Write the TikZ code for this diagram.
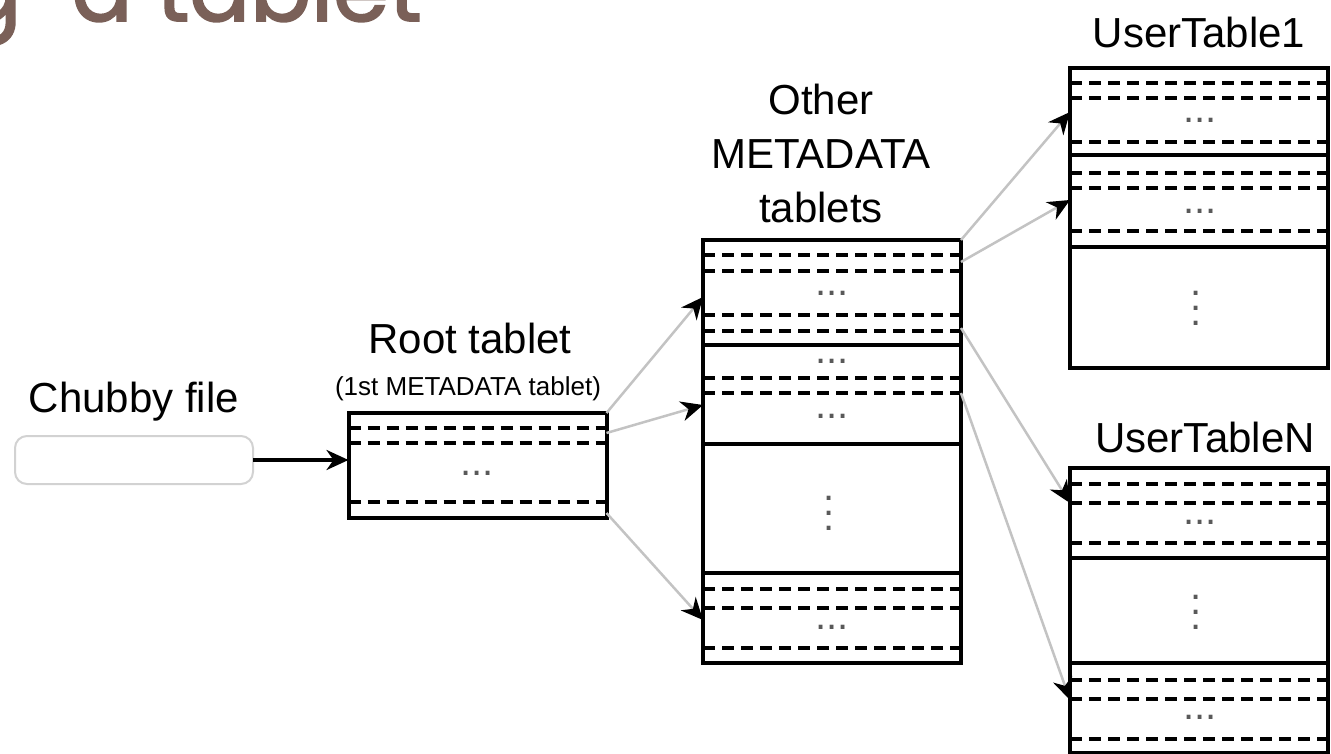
\documentclass[tikz,border=0pt]{standalone}
\usepackage{fontspec}
\setmainfont{Liberation Sans}
\newfontfamily\titlefont[FakeBold=2]{Poppins}
\usetikzlibrary{arrows.meta}
\definecolor{titlebrown}{RGB}{122,96,88}
\definecolor{linkgray}{RGB}{195,195,195}
\newcommand{\vdts}{\vbox{\baselineskip=15pt\lineskiplimit=-100pt\hbox{.}\hbox{.}\hbox{.}}}
\newcommand{\rowline}[3]{\path[draw,#3] (#1.west |- 0,#2) -- (#1.east |- 0,#2);}
\begin{document}
\begin{tikzpicture}[x=1pt,y=-1pt,
  tbl/.style={draw, line width=4pt, minimum width=258pt, inner sep=0pt, outer sep=0pt},
  filebox/.style={draw=gray!35, line width=2pt, rounded corners=12pt, minimum width=238pt, minimum height=48pt, inner sep=0pt, outer sep=0pt},
  dashrow/.style={line width=4pt, dash pattern=on 12pt off 7pt},
  solidrow/.style={line width=4pt},
  lbl/.style={font=\fontsize{42}{54}\selectfont, inner sep=0pt},
  dts/.style={font=\fontsize{40}{15}\selectfont, text=black!65, inner sep=0pt},
  link/.style={draw=linkgray, line width=2.5pt, -{Stealth[color=black,length=22pt,width=20pt,inset=7pt]}},
]
\clip (0,0) rectangle (1331,754);
% title, cut off by the top edge
\node[font=\titlefont\fontsize{90}{90}\selectfont, text=titlebrown, anchor=base east, inner sep=0pt] (title) at (422,21) {g\hspace{26pt} a tablet};

% tables
\node[filebox] (chubby) at (134,460) {};
\node[tbl, minimum height=105pt] (root) at (477.5,465.5) {};
\node[tbl, minimum height=423pt] (meta) at (832,451.5) {};
\node[tbl, minimum height=300pt] (ut1) at (1199,218) {};
\node[tbl, minimum height=285pt] (utn) at (1199,610.5) {};

% labels
\node[lbl, anchor=base] (chubbylbl) at (134,412) {Chubby file};
\node[lbl, anchor=base] (rootlbl) at (470,353) {Root tablet};
\node[font=\fontsize{26}{26}\selectfont, inner sep=0pt, anchor=base] (rootsub) at (468,395) {(1st METADATA tablet)};
\node[lbl, align=center] (metalbl) at (821,153) {Other\\METADATA\\tablets};
\node[lbl, anchor=base] (ut1lbl) at (1199,48) {UserTable1};
\node[lbl, anchor=base] (utnlbl) at (1205,452) {UserTableN};

% root rows
\rowline{root}{428}{dashrow}
\rowline{root}{443}{dashrow}
\rowline{root}{502}{dashrow}
\node[dts] (rootdots) at (477,473) {...};

% metadata rows
\rowline{meta}{255}{dashrow}
\rowline{meta}{271}{dashrow}
\rowline{meta}{315}{dashrow}
\rowline{meta}{331}{dashrow}
\rowline{meta}{345}{solidrow}
\rowline{meta}{378}{dashrow}
\rowline{meta}{393}{dashrow}
\rowline{meta}{444}{solidrow}
\rowline{meta}{573}{solidrow}
\rowline{meta}{589}{dashrow}
\rowline{meta}{608}{dashrow}
\rowline{meta}{648}{dashrow}
\node[dts] (metadots1) at (832,293) {...};
\node[dts] (metadots2) at (832,361) {...};
\node[dts] (metadots3) at (832,416) {...};
\node[dts] (metavdots) at (829,513) {\vdts};
\node[dts] (metadots4) at (832,627) {...};

% user table 1 rows
\rowline{ut1}{83}{dashrow}
\rowline{ut1}{98}{dashrow}
\rowline{ut1}{142}{dashrow}
\rowline{ut1}{155}{solidrow}
\rowline{ut1}{173}{dashrow}
\rowline{ut1}{188}{dashrow}
\rowline{ut1}{231}{dashrow}
\rowline{ut1}{247}{solidrow}
\node[dts] (ut1dots1) at (1200,120) {...};
\node[dts] (ut1dots2) at (1200,211) {...};
\node[dts] (ut1vdots) at (1196,308) {\vdts};

% user table N rows
\rowline{utn}{484}{dashrow}
\rowline{utn}{503}{dashrow}
\rowline{utn}{543}{dashrow}
\rowline{utn}{558}{solidrow}
\rowline{utn}{663}{solidrow}
\rowline{utn}{680}{dashrow}
\rowline{utn}{699}{dashrow}
\rowline{utn}{739}{dashrow}
\node[dts] (utndots1) at (1200,522) {...};
\node[dts] (utnvdots) at (1196,612) {\vdts};
\node[dts] (utndots2) at (1200,717) {...};

% pointers
\path[draw,line width=3.5pt,-{Stealth[length=22pt,width=20pt,inset=7pt]}] (chubby.east) -- (chubby.east -| root.west);
\path[link] (root.north east) -- (meta.west |- 0,297);
\path[link] (root.east |- 0,433) -- (meta.west |- 0,405);
\path[link] (root.east |- 0,513) -- (meta.west |- 0,620);
\path[link] (meta.north east) -- (ut1.west |- 0,112);
\path[link] (meta.east |- 0,262) -- (ut1.west |- 0,200);
\path[link] (meta.east |- 0,328) -- (utn.west |- 0,503);
\path[link] (meta.east |- 0,393) -- (utn.west |- 0,700);
\end{tikzpicture}
\end{document}
